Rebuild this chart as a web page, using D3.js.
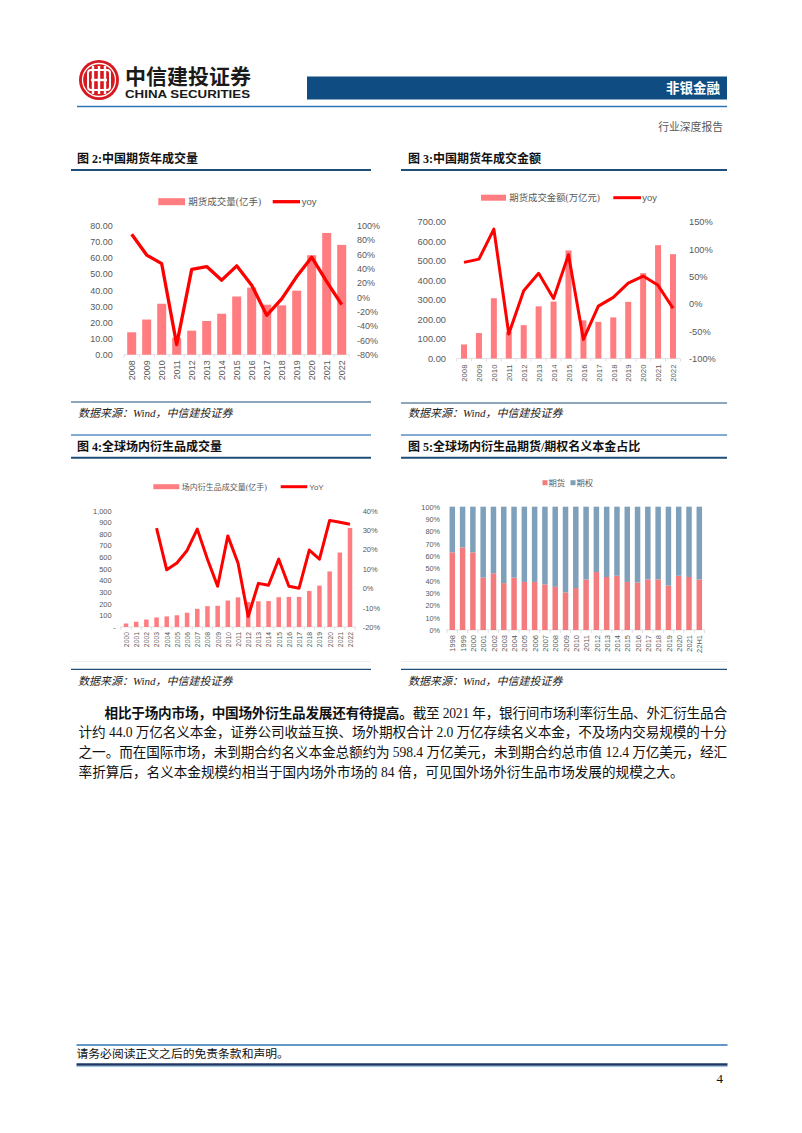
<!DOCTYPE html>
<html><head><meta charset="utf-8">
<script src="https://cdn.jsdelivr.net/npm/d3@7"></script>
<style>body{margin:0;background:#fff}svg{display:block}</style>
</head><body>
<svg id="page" width="802" height="1133"></svg>
<script>
// ---------------- data ----------------
const years0822 = ["2008","2009","2010","2011","2012","2013","2014","2015","2016","2017","2018","2019","2020","2021","2022"];
const cnFuturesVolume = [13.9, 21.8, 31.6, 10.5, 14.9, 20.9, 25.4, 36.1, 41.6, 31.0, 30.6, 39.7, 61.7, 75.5, 68.1];
const cnFuturesVolumeYoy = [88, 59, 47, -66, 39, 43, 24, 44, 17, -25, -2, 29, 56, 22, -10];
const cnFuturesTurnover = [71.9, 130.5, 309.1, 137.5, 171.1, 267.5, 292.0, 554.2, 195.6, 187.9, 210.8, 290.6, 437.5, 581.2, 534.9];
const cnFuturesTurnoverYoy = [76, 82, 137, -55, 24, 56, 10, 90, -65, -4, 12, 38, 51, 34, -8];
const years0022 = ["2000","2001","2002","2003","2004","2005","2006","2007","2008","2009","2010","2011","2012","2013","2014","2015","2016","2017","2018","2019","2020","2021","2022"];
const globalVolume = [30, 45, 64, 82, 91, 101, 123, 156, 179, 182, 227, 255, 214, 221, 223, 256, 259, 259, 310, 356, 478, 640, 852];
const globalVolumeYoy = [null, null, null, 31, 9.5, 13, 19.5, 30.5, 15, 1, 27, 13, -14.6, 2.5, 1.5, 15, 1, 0, 19.7, 15, 35, 34, 33];
const shareCats = ["1998","1999","2000","2001","2002","2003","2004","2005","2006","2007","2008","2009","2010","2011","2012","2013","2014","2015","2016","2017","2018","2019","2020","2021","22H1"];
const futuresShare = [63, 67, 63, 42.5, 46, 38, 42.5, 39, 39, 37, 35, 30.5, 34, 41, 47, 43, 44, 39, 38.5, 41, 41, 36, 44, 43, 41];
const ticksVol = [0, 10, 20, 30, 40, 50, 60, 70, 80];
const ticksVolYoy = [-80, -60, -40, -20, 0, 20, 40, 60, 80, 100];
const ticksTurn = [0, 100, 200, 300, 400, 500, 600, 700];
const ticksTurnYoy = [-100, -50, 0, 50, 100, 150];
const ticksGlobal = [0, 100, 200, 300, 400, 500, 600, 700, 800, 900, 1000];
const ticksGlobalYoy = [-20, -10, 0, 10, 20, 30, 40];
const ticksShare = [0, 10, 20, 30, 40, 50, 60, 70, 80, 90, 100];
const paragraphLines = [
  "截至 2021 年，银行间市场利率衍生品、外汇衍生品合",
  "计约 44.0 万亿名义本金，证券公司收益互换、场外期权合计 2.0 万亿存续名义本金，不及场内交易规模的十分",
  "之一。而在国际市场，未到期合约名义本金总额约为 598.4 万亿美元，未到期合约总市值 12.4 万亿美元，经汇",
  "率折算后，名义本金规模约相当于国内场外市场的 84 倍，可见国外场外衍生品市场发展的规模之大。"
];

// ---------------- styles ----------------
const svg = d3.select("#page");
const CJK = "'Noto Sans CJK SC', sans-serif";
const SERIF = "'Liberation Serif', 'Noto Sans CJK SC', serif";
const AX = "'Liberation Sans', Arial, sans-serif";
const GREY = "#595959";
const BAR = "#ff7c80", LINE = "#ff0000";
const NAVY = "#1f4e79";

// ---------------- header ----------------
const logo = svg.append("g").attr("transform", "translate(99,80)");
logo.append("circle").attr("r", 20).attr("fill", "#d7191f");
logo.append("circle").attr("r", 16.5).attr("fill", "none").attr("stroke", "#fff").attr("stroke-width", 1.3);
logo.append("rect").attr("x", -11).attr("y", -10).attr("width", 22).attr("height", 20).attr("rx", 3)
  .attr("fill", "none").attr("stroke", "#fff").attr("stroke-width", 2);
[-6, 0, 6].forEach(dx => logo.append("rect").attr("x", dx - 1.2).attr("y", -14).attr("width", 2.4).attr("height", 28).attr("fill", "#fff"));
logo.append("rect").attr("x", -8).attr("y", -1.2).attr("width", 16).attr("height", 2.4).attr("fill", "#fff");

svg.append("text").attr("x", 125).attr("y", 84).text("中信建投证券")
  .attr("font-family", CJK).attr("font-weight", 700).attr("font-size", 21).attr("fill", "#1a1a1a")
  .attr("textLength", 126).attr("lengthAdjust", "spacingAndGlyphs");
svg.append("text").attr("x", 125).attr("y", 98).text("CHINA SECURITIES")
  .attr("font-family", AX).attr("font-weight", 700).attr("font-size", 10.5).attr("fill", "#1a1a1a")
  .attr("textLength", 125).attr("lengthAdjust", "spacingAndGlyphs");
svg.append("rect").attr("x", 307).attr("y", 76.5).attr("width", 420).attr("height", 23).attr("fill", "#0f4c81");
svg.append("text").attr("x", 720).attr("y", 93).attr("text-anchor", "end").text("非银金融")
  .attr("font-family", CJK).attr("font-weight", 700).attr("font-size", 13.5).attr("fill", "#fff");
svg.append("line").attr("x1", 77).attr("x2", 727).attr("y1", 106.5).attr("y2", 106.5).attr("stroke", "#2e75b6").attr("stroke-width", 1.3);
svg.append("text").attr("x", 723).attr("y", 131).attr("text-anchor", "end").text("行业深度报告")
  .attr("font-family", SERIF).attr("font-size", 10.8).attr("fill", GREY);

// ---------------- helpers ----------------
function title(x, y, txt, lx0, lx1, lineY, topLineY) {
  if (topLineY != null) svg.append("line").attr("x1", lx0).attr("x2", lx1).attr("y1", topLineY).attr("y2", topLineY)
    .attr("stroke", "#5b8fc7").attr("stroke-width", 1.3);
  svg.append("text").attr("x", x).attr("y", y).attr("dy", "0.35em").text(txt)
    .attr("font-family", SERIF).attr("font-weight", 700).attr("font-size", 12).attr("fill", "#111");
  svg.append("line").attr("x1", lx0).attr("x2", lx1).attr("y1", lineY).attr("y2", lineY)
    .attr("stroke", NAVY).attr("stroke-width", 2);
}
function source(x, y, lx0, lx1, lineY) {
  svg.append("line").attr("x1", lx0).attr("x2", lx1).attr("y1", lineY).attr("y2", lineY)
    .attr("stroke", NAVY).attr("stroke-width", 1.2);
  svg.append("text").attr("x", x).attr("y", y).attr("dy", "0.35em").text("数据来源：Wind，中信建投证券")
    .attr("font-family", SERIF).attr("font-style", "italic").attr("font-size", 11).attr("fill", "#222");
}
function styleAxis(sel, size) {
  sel.select(".domain").remove();
  sel.attr("font-family", AX).attr("font-size", size);
  sel.selectAll("text").attr("fill", GREY);
}
function xAxisRot(g, x, yBase, pad, size) {
  const ax = d3.axisBottom(x).tickSize(0).tickPadding(0);
  const a = g.append("g").attr("transform", `translate(0,${yBase})`).call(ax);
  styleAxis(a, size);
  a.selectAll("text").attr("transform", "rotate(-90)").attr("text-anchor", "end")
    .attr("x", -pad).attr("y", 0).attr("dy", "0.35em");
}
function baseline(g, x, yBase, x0, x1) {
  g.append("line").attr("x1", x0).attr("x2", x1).attr("y1", yBase).attr("y2", yBase).attr("stroke", "#d9d9d9").attr("stroke-width", 0.8);
  const st = x.step();
  const dom = x.domain();
  const bounds = dom.map(c => x(c) - st / 2).concat([x(dom[dom.length - 1]) + st / 2]);
  g.selectAll(null).data(bounds).join("line").attr("x1", d => d).attr("x2", d => d)
    .attr("y1", yBase).attr("y2", yBase + 3).attr("stroke", "#d9d9d9").attr("stroke-width", 0.8);
}

function combo(c) {
  const g = svg.append("g");
  const x = d3.scalePoint().domain(c.cats).range([c.x0, c.x1]);
  const yL = d3.scaleLinear().domain(c.lDom).range([c.yBot, c.yTop]);
  const yR = d3.scaleLinear().domain(c.rDom).range([c.yBot, c.yTop]);
  baseline(g, x, c.yBot, c.bx0, c.bx1);
  const bars = c.cats.map((k, i) => ({ k, v: c.bars[i] }));
  g.selectAll(null).data(bars).join("rect")
    .attr("x", d => x(d.k) - c.bw / 2).attr("width", c.bw)
    .attr("y", d => yL(d.v)).attr("height", d => yL(0) - yL(d.v)).attr("fill", BAR);
  const pts = c.cats.map((k, i) => ({ k, v: c.yoy[i] }));
  g.append("path").datum(pts)
    .attr("d", d3.line().defined(d => d.v != null).x(d => x(d.k)).y(d => yR(d.v)))
    .attr("fill", "none").attr("stroke", LINE).attr("stroke-width", c.lw).attr("stroke-linejoin", "round");
  const aL = g.append("g").attr("transform", `translate(${c.lx},0)`)
    .call(d3.axisLeft(yL).tickValues(c.lTicks).tickSize(0).tickPadding(0).tickFormat(c.lFmt));
  styleAxis(aL, c.fs);
  if (c.dashZero) aL.selectAll(".tick").filter(d => d === 0).select("text").attr("x", 4);
  const aR = g.append("g").attr("transform", `translate(${c.rx},0)`)
    .call(d3.axisRight(yR).tickValues(c.rTicks).tickSize(0).tickPadding(0).tickFormat(d => d + "%"));
  styleAxis(aR, c.fs);
  xAxisRot(g, x, c.yBot, c.xpad, c.xfs);
  // legend
  const L = c.leg;
  g.append("rect").attr("x", L.sx0).attr("y", L.y - L.sh / 2).attr("width", L.sx1 - L.sx0).attr("height", L.sh).attr("fill", BAR);
  g.append("text").attr("x", L.tx).attr("y", L.y).attr("dy", "0.35em").text(c.barName)
    .attr("font-family", SERIF).attr("font-size", L.fs).attr("fill", GREY);
  g.append("line").attr("x1", L.lx0).attr("x2", L.lx1).attr("y1", L.y).attr("y2", L.y).attr("stroke", LINE).attr("stroke-width", c.lw);
  g.append("text").attr("x", L.ltx).attr("y", L.y).attr("dy", "0.35em").text(c.lineName)
    .attr("font-family", AX).attr("font-size", L.fs).attr("fill", GREY);
}

// ---------------- Figure 2 ----------------
title(77, 159, "图 2:中国期货年成交量", 71, 371, 170);
combo({
  cats: years0822, bars: cnFuturesVolume, yoy: cnFuturesVolumeYoy,
  x0: 131.7, x1: 341.7, bw: 9, bx0: 124, bx1: 349,
  yBot: 354.7, yTop: 225.7, lDom: [0, 80], rDom: [-80, 100],
  lTicks: ticksVol, rTicks: ticksVolYoy, lFmt: d3.format(".2f"),
  lx: 112.7, rx: 357, fs: 9, xfs: 9, xpad: 5.5, lw: 3.3,
  barName: "期货成交量(亿手)", lineName: "yoy",
  leg: { y: 201.7, sx0: 158.3, sx1: 185, sh: 7, tx: 188.3, lx0: 272.7, lx1: 300, ltx: 301.7, fs: 9.5 }
});
source(78, 413.3, 71, 371, 402);

// ---------------- Figure 3 ----------------
title(408, 159, "图 3:中国期货年成交金额", 401, 727, 170);
combo({
  cats: years0822, bars: cnFuturesTurnover, yoy: cnFuturesTurnoverYoy,
  x0: 464, x1: 673, bw: 6, bx0: 457, bx1: 680,
  yBot: 358.5, yTop: 222, lDom: [0, 700], rDom: [-100, 150],
  lTicks: ticksTurn, rTicks: ticksTurnYoy, lFmt: d3.format(".2f"),
  lx: 446, rx: 689, fs: 9.3, xfs: 7.8, xpad: 6, lw: 3,
  barName: "期货成交金额(万亿元)", lineName: "yoy",
  leg: { y: 197.7, sx0: 481, sx1: 506, sh: 6, tx: 509.3, lx0: 613.3, lx1: 641, ltx: 642.3, fs: 9.4 }
});
source(408, 413.3, 401, 727, 403);

// ---------------- Figure 4 ----------------
title(77, 446.7, "图 4:全球场内衍生品成交量", 71, 371, 457.7, 435);
combo({
  cats: years0022, bars: globalVolume, yoy: globalVolumeYoy,
  x0: 126, x1: 350, bw: 4.5, bx0: 120, bx1: 356,
  yBot: 627, yTop: 510.7, lDom: [0, 1000], rDom: [-20, 40],
  lTicks: ticksGlobal, rTicks: ticksGlobalYoy, lFmt: d => d === 0 ? "-" : d3.format(",")(d), dashZero: true,
  lx: 111.7, rx: 362.7, fs: 7.5, xfs: 6.8, xpad: 5, lw: 3,
  barName: "场内衍生品成交量(亿手)", lineName: "YoY",
  leg: { y: 486.7, sx0: 153.3, sx1: 179.3, sh: 5, tx: 181.7, lx0: 280.7, lx1: 307.3, ltx: 309.3, fs: 8 }
});
svg.append("line").attr("x1", 71).attr("x2", 371).attr("y1", 661.5).attr("y2", 661.5).attr("stroke", "#eeeeee");
source(78, 681, 71, 371, 669.3);

// ---------------- Figure 5 ----------------
title(408, 446.7, "图 5:全球场内衍生品期货/期权名义本金占比", 401, 727, 457.7, 435);
(function () {
  const g = svg.append("g");
  const x = d3.scalePoint().domain(shareCats).range([452.3, 699.3]);
  const y = d3.scaleLinear().domain([0, 100]).range([630, 506.7]);
  const bw = 5.5;
  const stackData = shareCats.map((k, i) => ({ k, fut: futuresShare[i], opt: 100 - futuresShare[i] }));
  const series = d3.stack().keys(["fut", "opt"])(stackData);
  const colors = { fut: "#f47b7d", opt: "#7fa0ba" };
  baseline(g, x, 630, 446, 705);
  g.selectAll(null).data(series).join("g").attr("fill", s => colors[s.key])
    .selectAll("rect").data(s => s).join("rect")
    .attr("x", d => x(d.data.k) - bw / 2).attr("width", bw)
    .attr("y", d => y(d[1])).attr("height", d => y(d[0]) - y(d[1]));
  const aL = g.append("g").attr("transform", "translate(440,0)")
    .call(d3.axisLeft(y).tickValues(ticksShare).tickSize(0).tickPadding(0).tickFormat(d => d + "%"));
  styleAxis(aL, 7.3);
  xAxisRot(g, x, 630, 5, 7.5);
  // legend
  const ly = 482.7;
  g.append("rect").attr("x", 542.5).attr("y", ly - 2.5).attr("width", 5).attr("height", 5).attr("fill", colors.fut);
  g.append("text").attr("x", 548.5).attr("y", ly).attr("dy", "0.35em").text("期货").attr("font-family", SERIF).attr("font-size", 8.3).attr("fill", GREY);
  g.append("rect").attr("x", 570.5).attr("y", ly - 2.5).attr("width", 5).attr("height", 5).attr("fill", colors.opt);
  g.append("text").attr("x", 576.5).attr("y", ly).attr("dy", "0.35em").text("期权").attr("font-family", SERIF).attr("font-size", 8.3).attr("fill", GREY);
})();
svg.append("line").attr("x1", 401).attr("x2", 727).attr("y1", 661.5).attr("y2", 661.5).attr("stroke", "#eeeeee");
source(408, 681, 401, 727, 669.3);

// ---------------- paragraph ----------------
const PF = 13.6;
const l1 = svg.append("text").attr("x", 104.5).attr("y", 717.5).attr("font-family", SERIF).attr("font-size", PF).attr("fill", "#111")
  .attr("textLength", 622.5).attr("lengthAdjust", "spacing");
l1.append("tspan").attr("font-weight", 700).text("相比于场内市场，中国场外衍生品发展还有待提高。");
l1.append("tspan").text(paragraphLines[0]);
[1, 2, 3].forEach(i => {
  const t = svg.append("text").attr("x", 78.6).attr("y", 717.5 + i * 19.7).attr("font-family", SERIF)
    .attr("font-size", PF).attr("fill", "#111").text(paragraphLines[i]);
  if (i < 3) t.attr("textLength", 648.4).attr("lengthAdjust", "spacing");
});

// ---------------- footer ----------------
svg.append("line").attr("x1", 76.5).attr("x2", 727.5).attr("y1", 1045).attr("y2", 1045).attr("stroke", "#2e75b6").attr("stroke-width", 1.3);
svg.append("text").attr("x", 76.5).attr("y", 1054).attr("dy", "0.35em").text("请务必阅读正文之后的免责条款和声明。")
  .attr("font-family", SERIF).attr("font-size", 11.8).attr("fill", "#111");
svg.append("line").attr("x1", 76.5).attr("x2", 727.5).attr("y1", 1064.5).attr("y2", 1064.5).attr("stroke", "#1f3864").attr("stroke-width", 2.6);
svg.append("line").attr("x1", 76.5).attr("x2", 727.5).attr("y1", 1066.6).attr("y2", 1066.6).attr("stroke", "#9dc3e6").attr("stroke-width", 1);
svg.append("text").attr("x", 723).attr("y", 1078.3).attr("dy", "0.35em").attr("text-anchor", "end").text("4")
  .attr("font-family", SERIF).attr("font-size", 13).attr("fill", "#111");
</script>
</body></html>
